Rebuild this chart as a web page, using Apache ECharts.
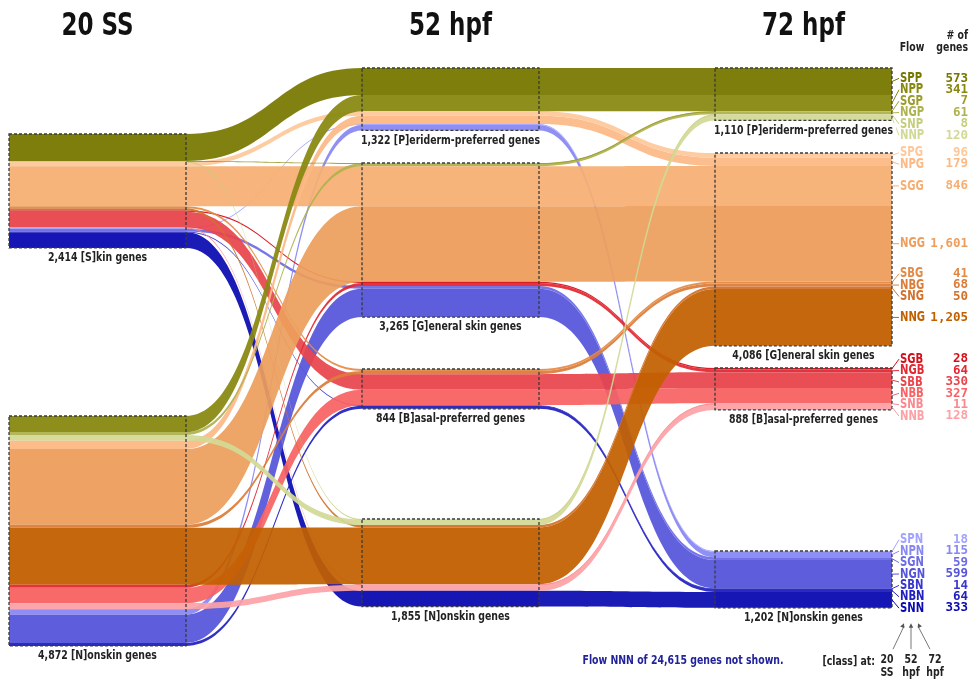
<!DOCTYPE html>
<html>
<head>
<meta charset="UTF-8">
<title>Skin gene class flows</title>
<script src="https://cdn.jsdelivr.net/npm/echarts@6/dist/echarts.min.js"></script>
<style>html,body{margin:0;padding:0;background:#fff;}</style>
</head>
<body>
<div id="main" style="width:970px;height:682px;"></div>
<script type="text/javascript">
// stages and the classes at each stage
var stages = ['20 SS', '52 hpf', '72 hpf'];
var stageClasses = [['S', 'N'], ['P', 'G', 'B', 'N'], ['P', 'G', 'B', 'N']];
var classNames = {
    S: '[S]kin genes', P: '[P]eriderm-preferred genes', G: '[G]eneral skin genes',
    B: '[B]asal-preferred genes', N: '[N]onskin genes'
};

// flow code = class at 20 SS, 52 hpf, 72 hpf
var flowCodes = ['SPP', 'NPP', 'SGP', 'NGP', 'SNP', 'NNP',
    'SPG', 'NPG', 'SGG', 'NGG', 'SBG', 'NBG', 'SNG', 'NNG',
    'SGB', 'NGB', 'SBB', 'NBB', 'SNB', 'NNB',
    'SPN', 'NPN', 'SGN', 'NGN', 'SBN', 'NBN', 'SNN'];
var flowGenes = [573, 341, 7, 61, 8, 120,
    96, 179, 846, 1601, 41, 68, 50, 1205,
    28, 64, 330, 327, 11, 128,
    18, 115, 59, 599, 14, 64, 333];
var hiddenFlow = 'NNN';
var hiddenGenes = 24615;

// styles
var flowColors = {
    SPP: '#777700', NPP: '#888810', SGP: '#9c9c2c', NGP: '#aeb24e', SNP: '#c6ce7c', NNP: '#d2d996',
    SPG: '#fdc89a', NPG: '#fcb985', SGG: '#f6af73', NGG: '#ed9e5c', SBG: '#e48a46', NBG: '#db7d3a', SNG: '#d2712a', NNG: '#c26000',
    SGB: '#d60e1a', NGB: '#e22832', SBB: '#e8454c', NBB: '#f86262', SNB: '#fb888e', NNB: '#fca1a6',
    SPN: '#a2a2ff', NPN: '#8888f3', SGN: '#6c6ce7', NGN: '#5555db', SBN: '#3737ce', NBN: '#2020c0', SNN: '#0a0ab0'
};
var SANS = "'DejaVu Sans Condensed', 'Noto Sans', sans-serif";
var MONO = "'DejaVu Sans Mono', monospace";
var SQUEEZE = 0.8;

// layout: px per gene and where each class box starts
var W = 970, H = 682;
var pxPerGene = 0.0472;
var box = {left: 9, top: 68, right: 78, bottom: 36, nodeWidth: 177};
var groupTop = [[134, 416], [68, 163, 369, 519], [68, 153, 368, 551]];

var rank = 'SPGBN';
// ribbon order inside each column
var sortKeys = [[0, 2, 1], [1, 2, 0], [2, 1, 0]];

var flows = flowCodes.map(function (c, i) { return {code: c, genes: flowGenes[i]}; });
var nodes = [];
var groups = [];
var gapCount = 0;

function addSpacer(d, px) {
    if (px <= 0) return;
    nodes.push({
        name: 'gap' + (gapCount++), value: px / pxPerGene, depth: d,
        itemStyle: {color: 'rgba(0,0,0,0)', opacity: 0}
    });
}

stages.forEach(function (st, d) {
    var ordered = flows.slice().sort(function (a, b) {
        for (var j = 0; j < 3; j++) {
            var p = sortKeys[d][j];
            var diff = rank.indexOf(a.code[p]) - rank.indexOf(b.code[p]);
            if (diff) return diff;
        }
        return 0;
    });
    var y = box.top;
    stageClasses[d].forEach(function (c, gi) {
        var members = ordered.filter(function (f) { return f.code[d] === c; });
        var total = members.reduce(function (s, f) { return s + f.genes; }, 0);
        addSpacer(d, groupTop[d][gi] - y);
        members.forEach(function (f) {
            nodes.push({
                name: f.code + '@' + d, value: f.genes, depth: d,
                itemStyle: {color: flowColors[f.code], opacity: 0.95}
            });
        });
        groups.push({stage: d, cls: c, total: total, members: members.map(function (f) { return f.code + '@' + d; })});
        y = groupTop[d][gi] + total * pxPerGene;
    });
    addSpacer(d, H - box.bottom - y);
});

// drawn in reverse legend order so the first flows sit on top
var links = [];
for (var i = flows.length - 1; i >= 0; i--) {
    for (var d = 0; d < 2; d++) {
        links.push({
            source: flows[i].code + '@' + d,
            target: flows[i].code + '@' + (d + 1),
            value: flows[i].genes,
            lineStyle: {color: flowColors[flows[i].code]}
        });
    }
}

var myChart = echarts.init(document.getElementById('main'), null, {renderer: 'canvas'});
myChart.setOption({
    backgroundColor: '#fff',
    animation: false,
    series: [{
        type: 'sankey',
        left: box.left, top: box.top, right: box.right, bottom: box.bottom,
        nodeWidth: box.nodeWidth,
        nodeGap: 0,
        nodeAlign: 'left',
        layoutIterations: 0,
        draggable: false,
        silent: true,
        emphasis: {disabled: true},
        label: {show: false},
        itemStyle: {borderWidth: 0},
        lineStyle: {curveness: 0.5, opacity: 0.93},
        data: nodes,
        links: links
    }]
});

// read node positions back from the sankey layout
var graph = myChart.getModel().getSeriesByIndex(0).getGraph();
var lay = {};
graph.eachNode(function (node) {
    var l = node.getLayout();
    lay[nodes[node.dataIndex].name] = {x: box.left + l.x, y: box.top + l.y, w: l.dx, h: l.dy};
});

function fmt(n) { return n.toLocaleString('en-US'); }

// condensed-looking text
function label(x, y, text, font, fill, align, extra) {
    var style = {text: text, font: font, fill: fill, align: align, verticalAlign: 'middle'};
    for (var k in extra) style[k] = extra[k];
    return {type: 'text', x: x, y: y, z: 21, scaleX: SQUEEZE, style: style};
}

var elements = [];

// stage titles
stages.forEach(function (st, d) {
    var g = groups.filter(function (x) { return x.stage === d; })[0];
    var l = lay[g.members[0]];
    elements.push(label(l.x + l.w / 2, 27, st, 'bold 32px ' + SANS, '#111', 'center'));
});

// dashed class boxes and their labels
groups.forEach(function (g) {
    var top = Infinity, bot = -Infinity, x = 0, w = 0;
    g.members.forEach(function (m) {
        var l = lay[m];
        top = Math.min(top, l.y);
        bot = Math.max(bot, l.y + l.h);
        x = l.x; w = l.w;
    });
    elements.push({
        type: 'rect', z: 20,
        shape: {x: x, y: top, width: w, height: bot - top},
        style: {fill: 'none', stroke: '#3a3a3a', lineWidth: 1.3, lineDash: [3, 2]}
    });
    elements.push(label(x + w / 2, bot + 10, fmt(g.total) + ' ' + classNames[g.cls],
        'bold 13px ' + SANS, '#222', 'center', {backgroundColor: '#fff', padding: [1, 4]}));
});

// flow labels at the right, spread so they do not overlap
function spreadLabels(ys, gap) {
    var gs = [];
    function pos(g) {
        var s = 0;
        g.items.forEach(function (y, j) { s += y - j * gap; });
        return s / g.items.length;
    }
    ys.forEach(function (y) {
        gs.push({items: [y]});
        while (gs.length > 1) {
            var b = gs[gs.length - 1], a = gs[gs.length - 2];
            if (pos(b) - (pos(a) + (a.items.length - 1) * gap) >= gap) break;
            a.items = a.items.concat(b.items);
            gs.pop();
        }
    });
    var out = [];
    gs.forEach(function (g) {
        var p = pos(g);
        g.items.forEach(function (y, j) { out.push(p + j * gap); });
    });
    return out;
}

var lastStage = stages.length - 1;
var centers = flows.map(function (f) {
    var l = lay[f.code + '@' + lastStage];
    return l.y + l.h / 2;
});
var labelY = spreadLabels(centers, 11.4);
var edgeX = lay[flows[0].code + '@' + lastStage].x + box.nodeWidth;
var codeX = edgeX + 8;
var countX = W - 2;
flows.forEach(function (f, i) {
    var col = flowColors[f.code];
    elements.push({
        type: 'polyline', z: 20,
        shape: {points: [[edgeX, centers[i]], [codeX - 1, labelY[i]]]},
        style: {stroke: col, lineWidth: 1, fill: null}
    });
    elements.push(label(codeX, labelY[i], f.code, 'bold 14px ' + SANS, col, 'left'));
    elements.push({
        type: 'text', x: countX, y: labelY[i], z: 20,
        style: {text: fmt(f.genes), font: 'bold 12.5px ' + MONO, fill: col, align: 'right', verticalAlign: 'middle'}
    });
});

// legend header
elements.push(label(codeX + 12, 48, 'Flow', 'bold 13px ' + SANS, '#222', 'center'));
elements.push(label(countX, 42, '# of\ngenes', 'bold 13px ' + SANS, '#222', 'right', {lineHeight: 12}));

// footer
elements.push(label(683, 661, 'Flow ' + hiddenFlow + ' of ' + fmt(hiddenGenes) + ' genes not shown.',
    'bold 13px ' + SANS, '#22229a', 'center'));
var stageKeyX = [codeX - 13, codeX + 11, codeX + 35];
elements.push(label(stageKeyX[0] - 12, 662, '[class] at:', 'bold 13px ' + SANS, '#222', 'right'));
var arrowTop = labelY[labelY.length - 1] + 15;
var letterX = [codeX + 4, codeX + 11, codeX + 18];
stages.forEach(function (st, d) {
    elements.push(label(stageKeyX[d], 666, st.replace(' ', '\n'), 'bold 13px ' + SANS, '#222', 'center', {lineHeight: 13}));
    var bx = stageKeyX[d] + (d === 0 ? 6 : d === 2 ? -5 : 0);
    var by = arrowTop + 26;
    var tx = letterX[d], ty = arrowTop;
    elements.push({
        type: 'polyline', z: 20,
        shape: {points: [[bx, by], [tx, ty + 3]]},
        style: {stroke: '#555', lineWidth: 0.8, fill: null}
    });
    var ang = Math.atan2(ty - by, tx - bx);
    var a1 = ang + Math.PI * 0.85, a2 = ang - Math.PI * 0.85;
    elements.push({
        type: 'polygon', z: 20,
        shape: {points: [[tx, ty], [tx + 5 * Math.cos(a1), ty + 5 * Math.sin(a1)], [tx + 5 * Math.cos(a2), ty + 5 * Math.sin(a2)]]},
        style: {fill: '#555'}
    });
});

myChart.setOption({graphic: {elements: elements}});
</script>
</body>
</html>
